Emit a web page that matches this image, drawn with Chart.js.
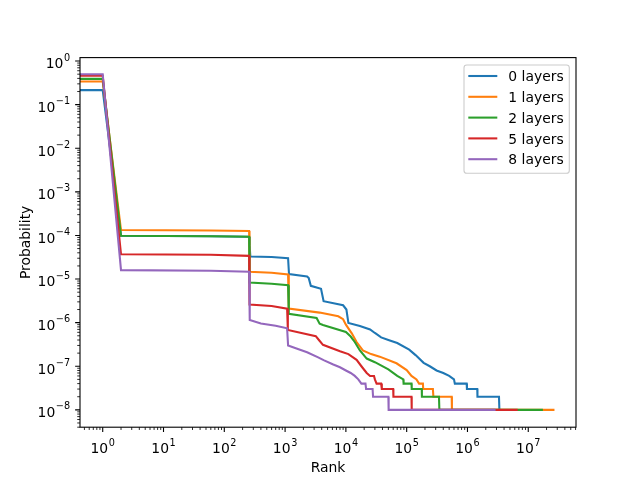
<!DOCTYPE html>
<html>
<head>
<meta charset="utf-8">
<script src="https://cdn.jsdelivr.net/npm/chart.js@4.4.1/dist/chart.umd.min.js"></script>
<style>
html, body { margin: 0; padding: 0; background: #fff; }
#wrap { width: 640px; height: 480px; }
</style>
</head>
<body>
<div id="wrap"><canvas id="chart" width="640" height="480"></canvas></div>
<script>
// series
const seriesLabels = ['0 layers', '1 layers', '2 layers', '5 layers', '8 layers'];
const seriesColors = ['#1f77b4', '#ff7f0e', '#2ca02c', '#d62728', '#9467bd'];

// rank 0.3 stands in for the rank-0 point that matplotlib clips to the left edge
const ranks0 = [0.3, 1, 2, 60, 256, 258, 264, 268, 600, 1120, 1160, 2300, 2450, 2650, 3900, 4300, 9000, 10200, 11000, 17000,
    25000, 30000, 38000, 50000, 70000, 110000, 140000, 190000, 240000, 310000, 400000, 500000, 600000, 620000, 970000,
    980000, 1450000, 1460000, 3300000, 3350000, 3500000];
const probs0 = [0.215, 0.215, 9.8e-5, 9.6e-5, 9.3e-5, 6.2e-5, 6.0e-5, 3.3e-5, 3.2e-5, 3.0e-5, 1.3e-5, 1.15e-5, 1.05e-5, 7.0e-6,
    6.0e-6, 3.1e-6, 2.5e-6, 2.0e-6, 9.8e-7, 8.4e-7, 7.0e-7, 5.8e-7, 4.6e-7, 4.0e-7, 3.4e-7, 2.4e-7, 1.8e-7, 1.2e-7, 1.0e-7,
    8e-8, 7e-8, 6e-8, 5e-8, 4e-8, 4e-8, 3e-8, 3e-8, 2e-8, 2e-8, 1e-8, 1e-8];

const ranks1 = [0.3, 1, 2, 60, 256, 260, 600, 1120, 1150, 3700, 7500, 9000, 10000, 12500, 15000, 19000, 26000, 36000, 68000,
    100000, 120000, 145000, 160000, 185000, 187000, 270000, 275000, 550000, 555000, 27000000];
const probs1 = [0.34, 0.34, 1.33e-4, 1.3e-4, 1.26e-4, 1.47e-5, 1.4e-5, 1.28e-5, 2.1e-6, 1.7e-6, 1.4e-6, 1.2e-6, 9e-7, 5.7e-7,
    3.6e-7, 2.3e-7, 1.9e-7, 1.66e-7, 1.17e-7, 8.2e-8, 6e-8, 5e-8, 4e-8, 4e-8, 3e-8, 3e-8, 2e-8, 2e-8, 1e-8, 1e-8];

const ranks2 = [0.3, 1, 2, 60, 256, 260, 600, 1120, 1150, 3300, 3700, 4200, 10000, 12000, 14000, 17000, 22000, 30000, 50000,
    70000, 88000, 89000, 120000, 121000, 177000, 178000, 340000, 345000, 17400000];
const probs2 = [0.39, 0.39, 9.8e-5, 9.6e-5, 9.3e-5, 8.3e-6, 7.8e-6, 7.2e-6, 1.6e-6, 1.28e-6, 9.5e-7, 8.8e-7, 6.1e-7, 4.8e-7,
    3.6e-7, 2.3e-7, 1.5e-7, 1.24e-7, 8.5e-8, 6e-8, 5e-8, 4e-8, 4e-8, 3e-8, 3e-8, 2e-8, 2e-8, 1e-8, 1e-8];

const ranks5 = [0.3, 1, 2, 60, 256, 260, 600, 1080, 1110, 3200, 3600, 4200, 8000, 11000, 15000, 18000, 22000, 25000, 29000,
    30000, 32000, 38000, 39000, 60000, 60500, 120000, 121000, 6700000];
const probs5 = [0.46, 0.46, 3.7e-5, 3.6e-5, 3.4e-5, 2.6e-6, 2.4e-6, 2.1e-6, 6.8e-7, 4.9e-7, 4.0e-7, 3.1e-7, 2.2e-7, 1.9e-7,
    1.4e-7, 1.0e-7, 7e-8, 6e-8, 6e-8, 5e-8, 4e-8, 4e-8, 3e-8, 3e-8, 2e-8, 2e-8, 1e-8, 1e-8];

const ranks8 = [0.3, 1, 2, 60, 256, 262, 400, 700, 1080, 1120, 1500, 2300, 3500, 4300, 6200, 8000, 10000, 12000, 14000,
    16000, 18000, 21000, 21500, 27500, 28000, 50000, 50500, 2900000];
const probs8 = [0.50, 0.50, 1.6e-5, 1.55e-5, 1.47e-5, 1.15e-6, 9.6e-7, 8.5e-7, 7.4e-7, 3.0e-7, 2.6e-7, 2.1e-7, 1.6e-7, 1.38e-7,
    1.1e-7, 9.5e-8, 8e-8, 7e-8, 6e-8, 5e-8, 4e-8, 4e-8, 3e-8, 3e-8, 2e-8, 2e-8, 1e-8, 1e-8];

// axes
const xTickExps = [0, 1, 2, 3, 4, 5, 6, 7];
const yTickExps = [-8, -7, -6, -5, -4, -3, -2, -1, 0];
const xMin = 0.423, xMax = 6.1e7;
const yMin = 4.0e-9, yMax = 1.2;
const xTitle = 'Rank';
const yTitle = 'Probability';

const FONT = '"DejaVu Sans", sans-serif';
const FS = 13.9;
const SFS = 9.7;

function toPoints(ranks, probs) {
    return ranks.map((r, i) => ({ x: r, y: probs[i] }));
}

const allRanks = [ranks0, ranks1, ranks2, ranks5, ranks8];
const allProbs = [probs0, probs1, probs2, probs5, probs8];

const datasets = seriesLabels.map((label, i) => ({
    label: label,
    data: toPoints(allRanks[i], allProbs[i]),
    borderColor: seriesColors[i],
    backgroundColor: seriesColors[i],
    borderWidth: 2.08,
    pointRadius: 0,
    tension: 0,
    fill: false,
    order: seriesLabels.length - i  // last series on top, like matplotlib
}));

function drawPower(ctx, exp, x, baseY, supY, align) {
    const sup = exp < 0 ? '\u2212' + (-exp) : String(exp);
    ctx.font = FS + 'px ' + FONT;
    const wb = ctx.measureText('10').width;
    ctx.font = SFS + 'px ' + FONT;
    const ws = ctx.measureText(sup).width;
    const w = wb + ws + 0.6;
    const x0 = align === 'center' ? x - w / 2 : x - w;
    ctx.textAlign = 'left';
    ctx.textBaseline = 'alphabetic';
    ctx.font = FS + 'px ' + FONT;
    ctx.fillText('10', x0, baseY);
    ctx.font = SFS + 'px ' + FONT;
    ctx.fillText(sup, x0 + wb + 0.6, supY);
}

function minorValues(lo, hi) {
    const out = [];
    for (let e = Math.floor(Math.log10(lo)); e <= Math.ceil(Math.log10(hi)); e++) {
        for (let k = 2; k <= 9; k++) {
            const v = k * Math.pow(10, e);
            if (v >= lo && v <= hi) out.push(v);
        }
    }
    return out;
}

// matplotlib-like frame, ticks, labels and legend
const mplAxes = {
    id: 'mplAxes',
    afterDraw(chart) {
        const ctx = chart.ctx;
        const a = chart.chartArea;
        const xs = chart.scales.x;
        const ys = chart.scales.y;
        ctx.save();
        ctx.strokeStyle = '#000';
        ctx.fillStyle = '#000';

        // minor ticks
        ctx.lineWidth = 0.83;
        ctx.beginPath();
        minorValues(xMin, xMax).forEach(v => {
            const px = xs.getPixelForValue(v);
            ctx.moveTo(px, a.bottom);
            ctx.lineTo(px, a.bottom + 2.78);
        });
        minorValues(yMin, yMax).forEach(v => {
            const py = ys.getPixelForValue(v);
            ctx.moveTo(a.left, py);
            ctx.lineTo(a.left - 2.78, py);
        });
        ctx.stroke();

        // major ticks and labels
        ctx.lineWidth = 1.1;
        ctx.beginPath();
        xTickExps.forEach(e => {
            const px = xs.getPixelForValue(Math.pow(10, e));
            ctx.moveTo(px, a.bottom);
            ctx.lineTo(px, a.bottom + 4.86);
        });
        yTickExps.forEach(e => {
            const py = ys.getPixelForValue(Math.pow(10, e));
            ctx.moveTo(a.left, py);
            ctx.lineTo(a.left - 4.86, py);
        });
        ctx.stroke();

        xTickExps.forEach(e => {
            const px = xs.getPixelForValue(Math.pow(10, e));
            drawPower(ctx, e, px, a.bottom + 26.1, a.bottom + 19.0, 'center');
        });
        yTickExps.forEach(e => {
            const py = ys.getPixelForValue(Math.pow(10, e));
            drawPower(ctx, e, a.left - 9.9, py + 7.3, py - 0.4, 'right');
        });

        // frame
        ctx.lineWidth = 1.1;
        ctx.strokeRect(a.left, a.top, a.right - a.left, a.bottom - a.top);

        // axis titles
        ctx.font = FS + 'px ' + FONT;
        ctx.textAlign = 'center';
        ctx.textBaseline = 'alphabetic';
        ctx.fillText(xTitle, (a.left + a.right) / 2, a.bottom + 45);
        ctx.save();
        ctx.translate(30, (a.top + a.bottom) / 2);
        ctx.rotate(-Math.PI / 2);
        ctx.fillText(yTitle, 0, 0);
        ctx.restore();

        // legend
        const lx = 464, ly = 65, lw = 105.3, lh = 108.3, r = 2.8;
        ctx.beginPath();
        ctx.moveTo(lx + r, ly);
        ctx.arcTo(lx + lw, ly, lx + lw, ly + lh, r);
        ctx.arcTo(lx + lw, ly + lh, lx, ly + lh, r);
        ctx.arcTo(lx, ly + lh, lx, ly, r);
        ctx.arcTo(lx, ly, lx + lw, ly, r);
        ctx.closePath();
        ctx.fillStyle = 'rgba(255,255,255,0.8)';
        ctx.fill();
        ctx.strokeStyle = '#cccccc';
        ctx.lineWidth = 1.1;
        ctx.stroke();

        ctx.font = FS + 'px ' + FONT;
        ctx.textAlign = 'left';
        seriesLabels.forEach((label, i) => {
            const rowY = 76 + i * 20.8;
            ctx.strokeStyle = seriesColors[i];
            ctx.lineWidth = 2.08;
            ctx.beginPath();
            ctx.moveTo(468.3, rowY);
            ctx.lineTo(497.3, rowY);
            ctx.stroke();
            ctx.fillStyle = '#000';
            ctx.fillText(label, 508.3, rowY + 5.2);
        });
        ctx.restore();
    }
};

new Chart(document.getElementById('chart'), {
    type: 'line',
    data: { datasets: datasets },
    options: {
        responsive: false,
        animation: false,
        parsing: true,
        layout: { padding: { left: 80, right: 64, top: 57.6, bottom: 52.8 } },
        plugins: {
            legend: { display: false },
            tooltip: { enabled: false }
        },
        scales: {
            x: { type: 'logarithmic', min: xMin, max: xMax, display: false },
            y: { type: 'logarithmic', min: yMin, max: yMax, display: false }
        }
    },
    plugins: [mplAxes]
});
</script>
</body>
</html>
